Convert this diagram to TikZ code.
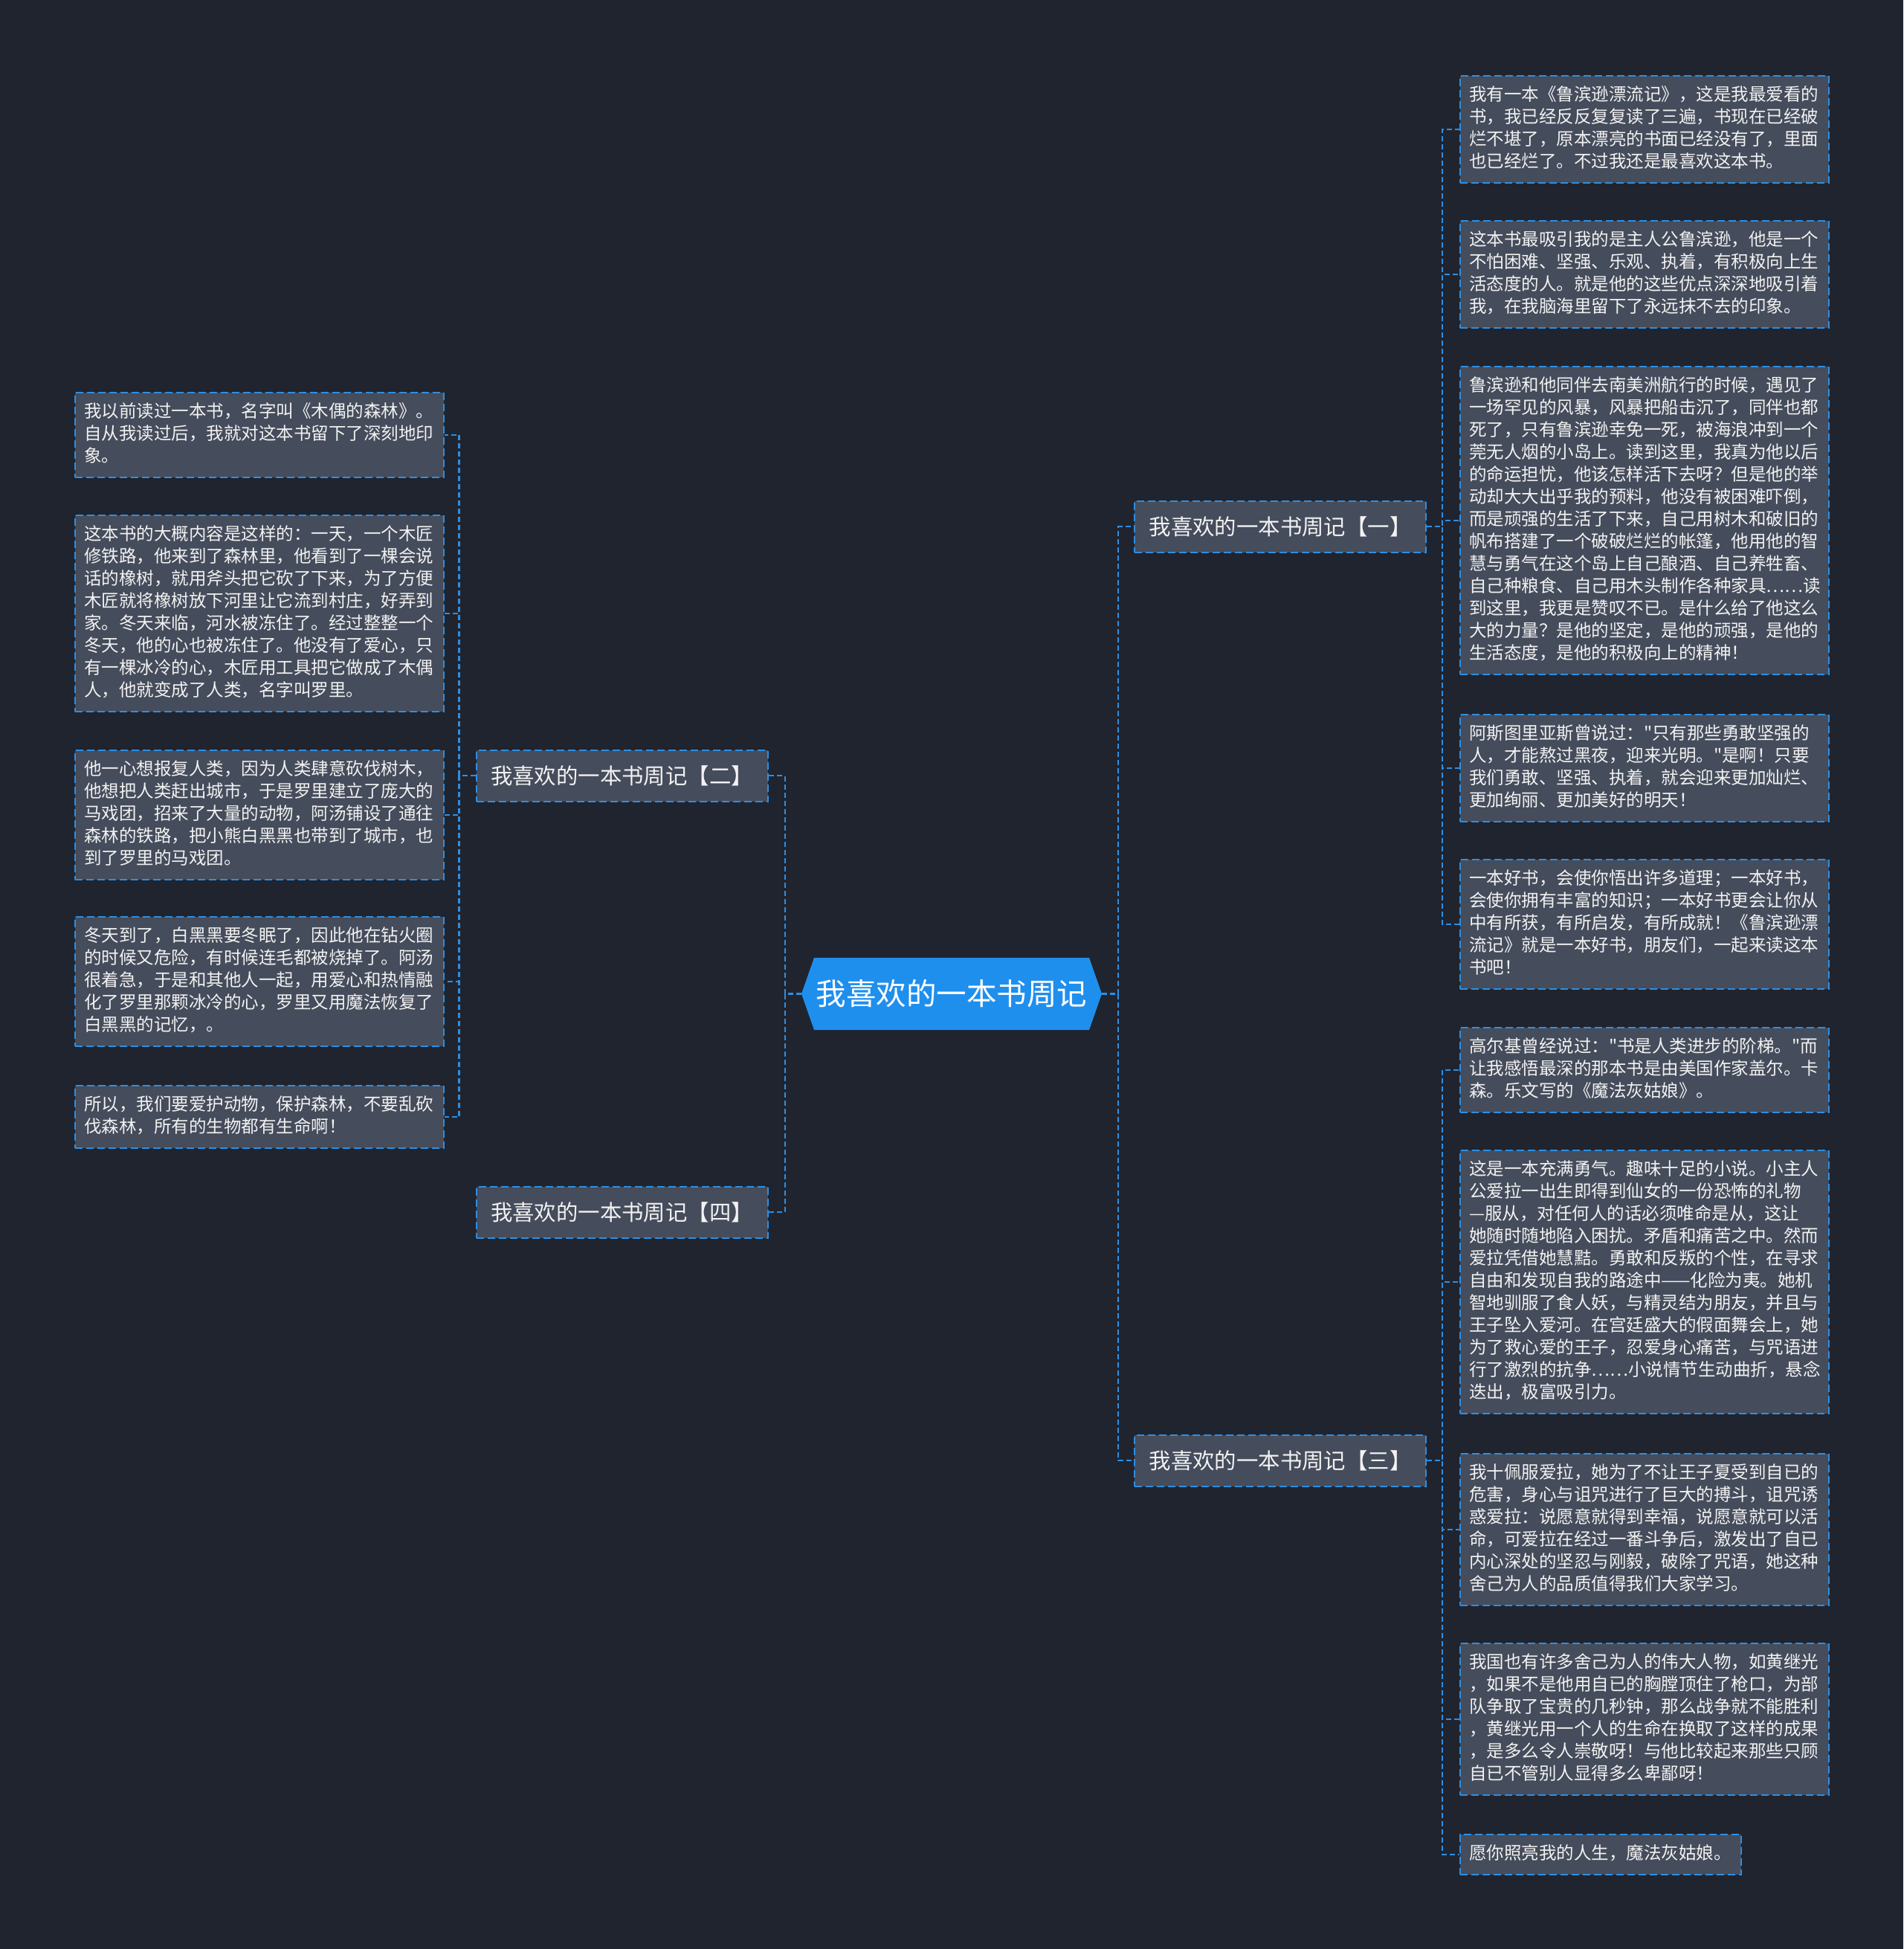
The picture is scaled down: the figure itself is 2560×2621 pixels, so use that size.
\documentclass[tikz,border=0pt]{standalone}
\usepackage{fontspec}
\setmainfont{Noto Sans CJK SC}[Ligatures=TeXOff]
\definecolor{bg}{HTML}{20242F}
\definecolor{leaffill}{HTML}{454C5B}
\definecolor{edgeblue}{HTML}{2C8FE4}
\definecolor{hubblue}{HTML}{1F8FEE}
\definecolor{txt}{HTML}{F2F2F2}
\tikzset{
  conn/.style={draw=edgeblue, line width=2.2pt, dash pattern=on 7pt off 4pt},
  leaf/.style={draw=edgeblue, fill=leaffill, line width=2pt, dash pattern=on 10pt off 5pt,
    text=txt, font=\fontsize{23.5}{30}\selectfont, inner xsep=12pt, inner ysep=12pt,
    text width=472pt, align=left, anchor=north west,
    execute at begin node=\strut, execute at end node=\strut},
  topic/.style={draw=edgeblue, fill=leaffill, line width=2pt, dash pattern=on 10pt off 5pt,
    text=txt, font=\fontsize{29.4}{35}\selectfont, minimum width=392pt, minimum height=69pt, inner sep=0pt},
  hub/.style={text=white, font=\fontsize{40.5}{48}\selectfont, minimum width=404pt, minimum height=97pt, inner sep=0pt}
}
\begin{document}
\begin{tikzpicture}[x=1pt,y=-1pt]
\fill[bg] (0,0) rectangle (2560,2621);
\useasboundingbox (0,0) rectangle (2560,2621);

% center hub
\fill[hubblue] (1078,1336.5) -- (1095,1288) -- (1465,1288) -- (1482,1336.5) -- (1465,1385) -- (1095,1385) -- cycle;
\node[hub] (c) at (1280,1336.5) {我喜欢的一本书周记};

% topics
\node[topic] (b1) at (1722,708) {我喜欢的一本书周记【一】};
\node[topic] (b2) at (836.5,1043) {我喜欢的一本书周记【二】};
\node[topic] (b4) at (836.5,1630) {我喜欢的一本书周记【四】};
\node[topic] (b3) at (1722,1964) {我喜欢的一本书周记【三】};

% right leaves of b1
\node[leaf] (r1) at (1963,101) {我有一本《鲁滨逊漂流记》，这是我最爱看的\\书，我已经反反复复读了三遍，书现在已经破\\烂不堪了，原本漂亮的书面已经没有了，里面\\也已经烂了。不过我还是最喜欢这本书。};
\node[leaf] (r2) at (1963,296) {这本书最吸引我的是主人公鲁滨逊，他是一个\\不怕困难、坚强、乐观、执着，有积极向上生\\活态度的人。就是他的这些优点深深地吸引着\\我，在我脑海里留下了永远抹不去的印象。};
\node[leaf] (r3) at (1963,492) {鲁滨逊和他同伴去南美洲航行的时候，遇见了\\一场罕见的风暴，风暴把船击沉了，同伴也都\\死了，只有鲁滨逊幸免一死，被海浪冲到一个\\莞无人烟的小岛上。读到这里，我真为他以后\\的命运担忧，他该怎样活下去呀？但是他的举\\动却大大出乎我的预料，他没有被困难吓倒，\\而是顽强的生活了下来，自己用树木和破旧的\\帆布搭建了一个破破烂烂的帐篷，他用他的智\\慧与勇气在这个岛上自己酿酒、自己养牲畜、\\自己种粮食、自己用木头制作各种家具……读\\到这里，我更是赞叹不已。是什么给了他这么\\大的力量？是他的坚定，是他的顽强，是他的\\生活态度，是他的积极向上的精神！};
\node[leaf] (r4) at (1963,960) {阿斯图里亚斯曾说过："只有那些勇敢坚强的\\人，才能熬过黑夜，迎来光明。"是啊！只要\\我们勇敢、坚强、执着，就会迎来更加灿烂、\\更加绚丽、更加美好的明天！};
\node[leaf] (r5) at (1963,1155) {一本好书，会使你悟出许多道理；一本好书，\\会使你拥有丰富的知识；一本好书更会让你从\\中有所获，有所启发，有所成就！《鲁滨逊漂\\流记》就是一本好书，朋友们，一起来读这本\\书吧！};

% right leaves of b3
\node[leaf] (r6) at (1963,1381) {高尔基曾经说过："书是人类进步的阶梯。"而\\让我感悟最深的那本书是由美国作家盖尔。卡\\森。乐文写的《魔法灰姑娘》。};
\node[leaf] (r7) at (1963,1546) {这是一本充满勇气。趣味十足的小说。小主人\\公爱拉一出生即得到仙女的一份恐怖的礼物\\—服从，对任何人的话必须唯命是从，这让\\她随时随地陷入困扰。矛盾和痛苦之中。然而\\爱拉凭借她慧黠。勇敢和反叛的个性，在寻求\\自由和发现自我的路途中——化险为夷。她机\\智地驯服了食人妖，与精灵结为朋友，并且与\\王子坠入爱河。在宫廷盛大的假面舞会上，她\\为了救心爱的王子，忍爱身心痛苦，与咒语进\\行了激烈的抗争……小说情节生动曲折，悬念\\迭出，极富吸引力。};
\node[leaf] (r8) at (1963,1954) {我十佩服爱拉，她为了不让王子夏受到自已的\\危害，身心与诅咒进行了巨大的搏斗，诅咒诱\\惑爱拉：说愿意就得到幸福，说愿意就可以活\\命，可爱拉在经过一番斗争后，激发出了自已\\内心深处的坚忍与刚毅，破除了咒语，她这种\\舍己为人的品质值得我们大家学习。};
\node[leaf] (r9) at (1963,2209) {我国也有许多舍己为人的伟大人物，如黄继光\\，如果不是他用自已的胸膛顶住了枪口，为部\\队争取了宝贵的几秒钟，那么战争就不能胜利\\，黄继光用一个人的生命在换取了这样的成果\\，是多么令人崇敬呀！与他比较起来那些只顾\\自已不管别人显得多么卑鄙呀！};
\node[leaf, text width=354pt] (r10) at (1963,2466) {愿你照亮我的人生，魔法灰姑娘。};

% left leaves of b2
\node[leaf] (l1) at (100,527) {我以前读过一本书，名字叫《木偶的森林》。\\自从我读过后，我就对这本书留下了深刻地印\\象。};
\node[leaf] (l2) at (100,692) {这本书的大概内容是这样的：一天，一个木匠\\修铁路，他来到了森林里，他看到了一棵会说\\话的橡树，就用斧头把它砍了下来，为了方便\\木匠就将橡树放下河里让它流到村庄，好弄到\\家。冬天来临，河水被冻住了。经过整整一个\\冬天，他的心也被冻住了。他没有了爱心，只\\有一棵冰冷的心，木匠用工具把它做成了木偶\\人，他就变成了人类，名字叫罗里。};
\node[leaf] (l3) at (100,1008) {他一心想报复人类，因为人类肆意砍伐树木，\\他想把人类赶出城市，于是罗里建立了庞大的\\马戏团，招来了大量的动物，阿汤铺设了通往\\森林的铁路，把小熊白黑黑也带到了城市，也\\到了罗里的马戏团。};
\node[leaf] (l4) at (100,1232) {冬天到了，白黑黑要冬眠了，因此他在钻火圈\\的时候又危险，有时候连毛都被烧掉了。阿汤\\很着急，于是和其他人一起，用爱心和热情融\\化了罗里那颗冰冷的心，罗里又用魔法恢复了\\白黑黑的记忆，。};
\node[leaf] (l5) at (100,1459) {所以，我们要爱护动物，保护森林，不要乱砍\\伐森林，所有的生物都有生命啊！};

% connectors: center to topics
\foreach \t in {b1,b3} \draw[conn] (c.east) -- ++(22,0) |- (\t.west);
\foreach \t in {b2,b4} \draw[conn] (c.west) -- ++(-22,0) |- (\t.east);
% topics to leaves
\foreach \t in {r1,r2,r3,r4,r5} \draw[conn] (b1.east) -- ++(21,0) |- (\t.west);
\foreach \t in {r6,r7,r8,r9,r10} \draw[conn] (b3.east) -- ++(21,0) |- (\t.west);
\foreach \t in {l1,l2,l3,l4,l5} \draw[conn] (b2.west) -- ++(-22,0) |- (\t.east);
\end{tikzpicture}
\end{document}
